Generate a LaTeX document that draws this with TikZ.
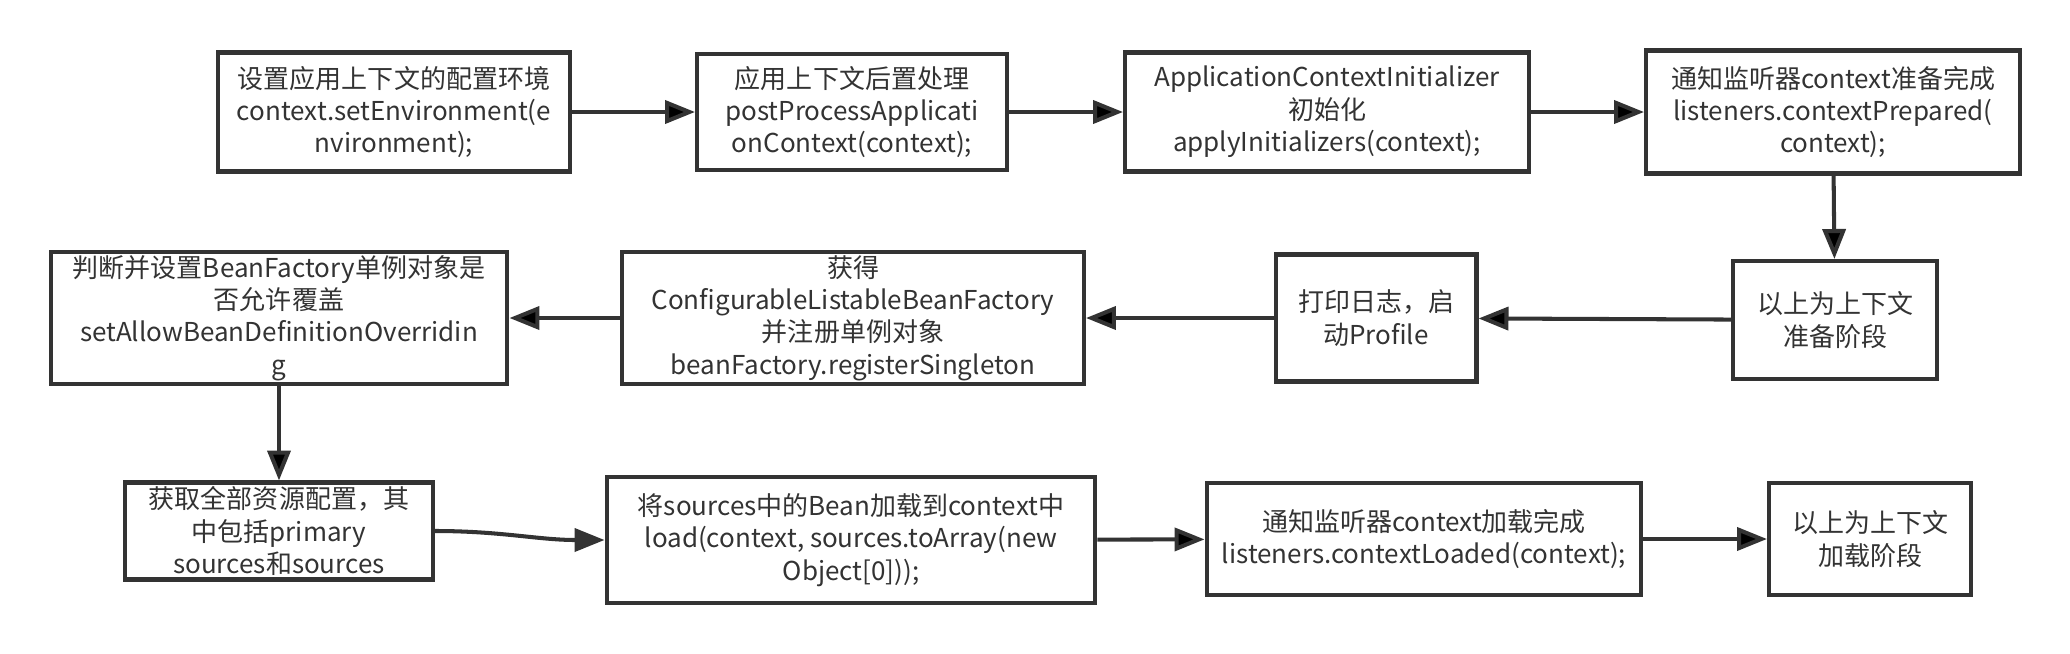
\documentclass[tikz,border=0pt]{standalone}
\usepackage{fontspec}
\setmainfont{Noto Sans CJK SC}
\usetikzlibrary{arrows.meta}
\definecolor{ink}{HTML}{333333}

\begin{document}
\begin{tikzpicture}[x=0.02cm, y=-0.02cm,
    stage/.style={draw=ink, line width=2.3pt, fill=white, text=ink, align=center, inner sep=2pt,
                  font=\fontsize{14.8pt}{18.4pt}\selectfont},
    flow/.style={draw=ink, line width=2.3pt, -{Triangle[length=0.6cm, width=0.46cm]}}]
    \useasboundingbox (0, 0) rectangle (2070, 653);

    % first row: preparing the context
    \node (env)[stage, minimum width=7.04cm, minimum height=2.38cm] at (394, 112) {设置应用上下文的配置环境\\context.setEnvironment(e\\nvironment);};
    \node (post)[stage, minimum width=6.2cm, minimum height=2.32cm] at (852, 112) {应用上下文后置处理\\postProcessApplicati\\onContext(context);};
    \node (init)[stage, minimum width=8.08cm, minimum height=2.38cm] at (1327, 112) {ApplicationContextInitializer\\初始化\\applyInitializers(context);};
    \node (prepared)[stage, minimum width=7.48cm, minimum height=2.46cm] at (1833, 112) {通知监听器context准备完成\\listeners.contextPrepared(\\context);};

    % second row, right to left
    \node (prepend)[stage, minimum width=4.08cm, minimum height=2.36cm] at (1835, 320) {以上为上下文\\准备阶段};
    \node (log)[stage, minimum width=4.02cm, minimum height=2.54cm] at (1376, 318) {打印日志，启\\动Profile};
    \node (factory)[stage, minimum width=9.24cm, minimum height=2.54cm] at (853, 318) {获得\\ConfigurableListableBeanFactory\\并注册单例对象\\beanFactory.registerSingleton};
    \node (override)[stage, minimum width=9.14cm, minimum height=2.54cm] at (279, 318) {判断并设置BeanFactory单例对象是\\否允许覆盖\\setAllowBeanDefinitionOverridin\\g};

    % third row: loading the context
    \node (sources)[stage, minimum width=6.16cm, minimum height=1.94cm] at (279, 531) {获取全部资源配置，其\\中包括primary\\sources和sources};
    \node (load)[stage, minimum width=9.78cm, minimum height=2.52cm] at (851, 540) {将sources中的Bean加载到context中\\load(context, sources.toArray(new\\Object[0]));};
    \node (loaded)[stage, minimum width=8.7cm, minimum height=2.24cm] at (1424, 539) {通知监听器context加载完成\\listeners.contextLoaded(context);};
    \node (loadend)[stage, minimum width=4.04cm, minimum height=2.24cm] at (1870, 539) {以上为上下文\\加载阶段};

    \draw[flow] (env) edge (post);
    \draw[flow] (post) edge (init);
    \draw[flow] (init) edge (prepared);
    \draw[flow] (prepared) edge (prepend);
    \draw[flow] (prepend) edge (log);
    \draw[flow] (log) edge (factory);
    \draw[flow] (factory) edge (override);
    \draw[flow] (override) edge (sources);
    \path (sources.east) edge[flow, out=0, in=180] (load.west);
    \draw[flow] (load) edge (loaded);
    \draw[flow] (loaded) edge (loadend);

\end{tikzpicture}
\end{document}
